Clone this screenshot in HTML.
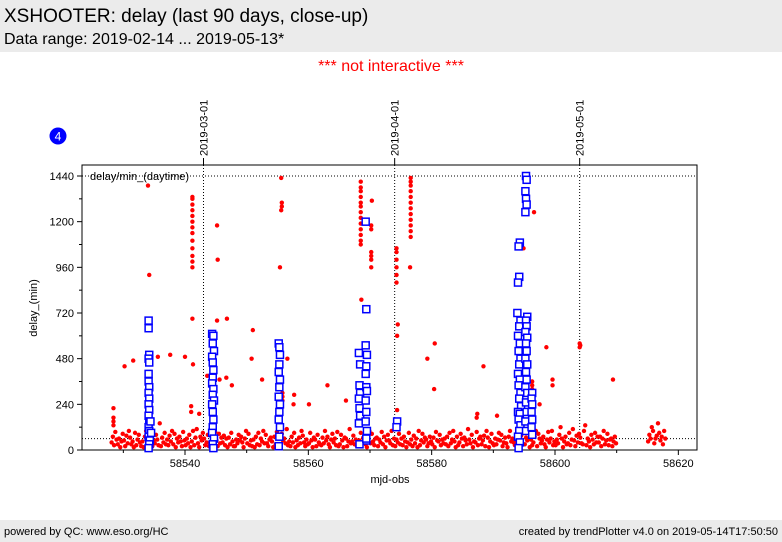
<!DOCTYPE html>
<html><head><meta charset="utf-8">
<style>
body{margin:0;width:782px;height:542px;background:#fff;font-family:"Liberation Sans",sans-serif;overflow:hidden;position:relative}
.hdr{position:absolute;left:0;top:0;width:782px;height:52px;background:#ebebeb}
.ftr{position:absolute;left:0;top:520px;width:782px;height:22px;background:#ebebeb;font-size:11px}
</style></head><body>
<div class="hdr">
<div style="position:absolute;left:4px;top:6px;font-size:19px">XSHOOTER: delay (last 90 days, close-up)</div>
<div style="position:absolute;left:4px;top:31px;font-size:16px">Data range: 2019-02-14 ... 2019-05-13*</div>
</div>
<div style="position:absolute;left:0;width:782px;top:58px;text-align:center;color:#f00;font-size:16px">*** not interactive ***</div>
<div class="ftr">
<span style="position:absolute;left:4px;top:6px">powered by QC: www.eso.org/HC</span>
<span style="position:absolute;right:4px;top:6px">created by trendPlotter v4.0 on 2019-05-14T17:50:50</span>
</div>
<svg id="chart" width="782" height="542" style="position:absolute;left:0;top:0" font-family="Liberation Sans, sans-serif"></svg>
<script>
const xTicks=[58540,58560,58580,58600,58620];
const yTicks=[0,240,480,720,960,1200,1440];
const dateLines=[58543,58574,58604];
const dateLabels=["2019-03-01","2019-04-01","2019-05-01"];
const refLines=[1440,60];
// baseline: per-day groups of delays
const baseDays=[58528,58529,58530,58531,58532,58533,58534,58535,58536,58537,58538,58539,58540,58541,58542,58543,58544,58545,58546,58547,58548,58549,58550,58551,58552,58553,58554,58555,58556,58557,58558,58559,58560,58561,58562,58563,58564,58565,58566,58567,58568,58569,58570,58571,58572,58573,58574,58575,58576,58577,58578,58579,58580,58581,58582,58583,58584,58585,58586,58587,58588,58589,58590,58591,58592,58593,58594,58595,58596,58597,58598,58599,58600,58601,58602,58603,58604,58605,58606,58607,58608,58609,58615,58616,58617];
const baseVals=[
[40,70,25,95,55],[30,60,15,45,85],[50,20,75,35,100],[65,30,45,15,90],[25,55,80,40,20],[45,15,70,100,35],
[60,30,110,20,50],[35,80,55,25,140],[20,65,40,90,30],[55,25,75,45,100],[30,85,15,60,40],[70,45,20,95,50],
[25,60,35,80,15],[45,100,25,65,110],[35,15,70,50,90],[60,25,40,80,20],[30,70,15,55,95],[50,20,85,35,65],
[40,75,25,60,15],[65,30,90,45,20],[20,55,35,80,50],[70,40,15,60,100],[35,85,25,50,20],[55,15,70,30,90],
[25,60,45,100,35],[80,35,20,55,65],[45,15,70,30,95],[30,60,20,85,50],[60,35,110,25,45],[20,70,40,90,15],
[50,25,65,35,100],[75,40,20,55,30],[35,90,50,15,65],[55,20,80,40,30],[25,65,35,100,50],[70,30,15,55,85],
[40,60,25,95,20],[30,80,50,15,65],[60,20,45,110,35],[45,75,30,55,20],[25,50,90,35,65],[55,30,15,70,100],
[35,85,45,25,60],[65,20,55,40,95],[30,70,15,50,80],[50,35,100,25,60],[20,55,40,85,30],[60,25,70,45,15],
[40,90,30,55,20],[75,35,60,15,100],[25,50,85,40,65],[55,20,35,70,45],[30,65,15,95,50],[45,80,25,55,35],
[60,30,70,20,90],[35,55,100,45,15],[70,25,40,85,60],[20,65,50,30,110],[55,35,80,15,45],[40,95,25,60,70],
[30,50,75,20,100],[65,15,45,85,35],[25,60,30,55,90],[50,80,20,40,65],[35,15,70,100,45],[60,40,25,55,85],
[45,20,75,35,110],[30,65,50,90,15],[55,25,40,70,100],[20,85,60,35,50],[70,30,15,55,95],[40,60,100,25,45],
[25,55,35,80,120],[60,15,45,70,30],[35,90,25,55,110],[50,20,75,40,85],[65,35,30,100,130],[25,60,45,15,80],
[55,30,90,40,70],[40,70,20,60,100],[30,50,85,25,55],[60,20,45,70,35],[45,80,60,120,100],[35,60,75,140,90],[50,70,30,100,60]
];
// spikes: [mjd, delay]
const spikes=[
[58528.4,130],[58528.4,150],[58528.4,170],[58528.4,220],[58530.2,440],[58531.6,470],[58534.0,1390],[58534.2,920],
[58535.6,490],[58537.6,500],[58540.0,490],
[58541.2,960],[58541.2,990],[58541.2,1020],[58541.2,1060],[58541.2,1100],[58541.2,1140],[58541.2,1170],[58541.2,1200],
[58541.2,1230],[58541.2,1260],[58541.2,1290],[58541.2,1320],[58541.2,1330],[58541.2,690],[58541.3,450],
[58541.0,230],[58541.0,200],[58542.3,190],[58543.6,390],[58545.2,1180],[58545.3,1000],[58545.2,680],[58545.6,370],
[58546.8,690],[58546.7,380],[58547.6,340],[58551.0,630],[58550.8,480],[58552.5,370],
[58555.6,1430],[58555.7,1300],[58555.7,1280],[58555.6,1260],[58555.4,960],[58555.8,300],[58555.8,280],[58555.8,260],
[58556.6,480],[58557.6,240],[58557.7,290],[58560.1,240],[58563.1,340],[58566.1,260],
[58568.5,1080],[58568.5,1100],[58568.5,1130],[58568.5,1160],[58568.5,1190],[58568.5,1220],[58568.5,1250],[58568.5,1280],
[58568.5,1300],[58568.5,1330],[58568.5,1360],[58568.5,1380],[58568.5,1410],[58568.6,790],
[58570.2,1180],[58570.2,1160],[58570.2,1040],[58570.2,1020],[58570.2,1000],[58570.2,960],[58570.3,1310],
[58574.3,880],[58574.3,920],[58574.3,960],[58574.3,1000],[58574.3,1040],[58574.3,1060],[58574.4,600],[58574.5,660],[58574.4,210],
[58576.6,1120],[58576.6,1150],[58576.6,1180],[58576.6,1210],[58576.6,1240],[58576.6,1270],[58576.6,1300],[58576.6,1330],
[58576.6,1360],[58576.6,1390],[58576.6,1410],[58576.6,1430],[58576.5,960],
[58579.3,480],[58580.4,320],[58580.5,560],[58587.3,170],[58587.4,190],[58588.4,440],[58590.6,180],
[58594.9,1060],[58596.6,1250],[58596.3,250],[58596.3,280],[58596.3,300],[58596.3,320],[58596.3,340],[58596.3,360],
[58597.5,240],[58598.6,540],[58599.6,340],[58599.6,370],[58604.0,540],[58604.0,560],[58604.1,550],[58609.4,370]
];
const blueMjd=[
58534.1,58534.1,58534.2,58534.1,58534.2,58534.1,58534.1,58534.2,58534.1,58534.2,58534.1,58534.2,58534.1,58534.2,58534.1,58534.2,58534.1,58534.3,58534.2,58534.1,58534.5,58534.4,
58544.4,58544.6,58544.5,58544.7,58544.4,58544.5,58544.6,58544.5,58544.4,58544.6,58544.5,58544.7,58544.4,58544.5,58544.6,58544.5,58544.4,58544.7,58544.5,58544.6,
58555.2,58555.3,58555.4,58555.3,58555.2,58555.4,58555.3,58555.2,58555.4,58555.3,58555.2,58555.4,58555.3,58555.2,
58568.2,58568.4,58568.3,58568.4,58568.2,58568.3,58568.4,58568.2,58569.3,58569.4,58569.3,58569.5,58569.4,58569.3,58569.4,58569.5,58569.3,58569.4,58569.3,58569.5,58569.4,58568.3,58569.4,
58574.4,58574.3,
58593.9,58594.2,58594.0,58594.3,58594.1,58594.4,58594.2,58594.0,58594.3,58594.1,58594.4,58594.2,58594.0,58594.3,58594.1,58594.4,58594.2,58594.5,58594.0,58594.3,58594.1,58594.4,58594.2,58594.0,58594.3,58594.1,
58595.3,58595.4,58595.2,58595.3,58595.4,58595.2,58595.5,58595.3,58595.4,58595.2,58595.5,58595.3,58595.4,58595.2,58595.5,58595.3,58595.4,58595.2,58595.5,58595.3,58595.4,58595.2,58595.3,
58596.3,58596.2,58596.3,58596.2,58596.3,58596.2,58596.3
];
const blueDelay=[
680,640,500,480,460,400,360,330,300,270,240,210,180,150,120,100,70,50,30,10,90,150,
610,600,560,520,490,460,420,380,350,320,290,260,240,200,160,120,90,60,30,10,
560,540,500,450,410,370,330,280,240,200,160,120,70,20,
510,450,340,300,270,220,180,140,1200,740,550,500,440,400,330,310,260,200,150,100,50,30,60,
150,120,
720,910,880,1090,1070,680,650,600,560,520,480,450,400,370,340,300,270,230,200,190,160,130,100,70,40,10,
1440,1420,1360,1320,1290,1250,700,680,650,620,590,560,520,480,450,410,370,330,300,250,200,150,100,
300,270,240,200,160,120,80
];
const ns="http://www.w3.org/2000/svg";
const svg=document.getElementById('chart');
const L=82,R=697,T=165,B=450;
function xS(m){return 185+(m-58540)*(555-185)/60;}
function yS(v){return 450-v*(450-176)/1440;}
function mk(tag,attrs,parent){const e=document.createElementNS(ns,tag);for(const k in attrs)e.setAttribute(k,attrs[k]);(parent||svg).appendChild(e);return e;}
const frame=mk('rect',{x:L,y:T,width:R-L,height:B-T,fill:'#fff',stroke:'#000','stroke-width':1});


refLines.forEach(v=>{const l=mk('line',{x1:L,x2:R,y1:yS(v),y2:yS(v),stroke:'#000','stroke-dasharray':'1,2','stroke-width':1});

});
dateLines.forEach((m,i)=>{const l=mk('line',{x1:xS(m),x2:xS(m),y1:T,y2:B,stroke:'#000','stroke-dasharray':'1,2','stroke-width':1});


mk('line',{x1:xS(m),x2:xS(m),y1:T-7,y2:T,stroke:'#000'});
const t=mk('text',{x:0,y:0,'font-size':11,transform:`translate(${xS(m)+4},${T-9}) rotate(-90)`});
t.textContent=dateLabels[i];

});
const lg=mk('text',{x:90,y:180,'font-size':11});lg.textContent='delay/min_(daytime)';


function dot(m,v){const c=mk('circle',{cx:xS(m),cy:yS(v),r:2.2,fill:'#f00'});

}
baseDays.forEach((d,i)=>{const vals=baseVals[i];vals.forEach((v,j)=>dot(d+(j+0.5)/vals.length,v));});
spikes.forEach(p=>dot(p[0],p[1]));
for(let i=0;i<blueMjd.length;i++){const r=mk('rect',{x:xS(blueMjd[i])-3.5,y:yS(blueDelay[i])-3.5,width:7,height:7,fill:'#fff',stroke:'#00f','stroke-width':1.5});

}
xTicks.forEach(v=>{mk('line',{x1:xS(v),x2:xS(v),y1:B,y2:B+5,stroke:'#000'});
const t=mk('text',{x:xS(v),y:B+17,'font-size':11,'text-anchor':'middle'});t.textContent=v;

});
xTicks.forEach(v=>{const m=xS(v-10);if(m>L)mk('line',{x1:m,x2:m,y1:B,y2:B+3,stroke:'#000'});});
yTicks.forEach(v=>{mk('line',{x1:L-5,x2:L,y1:yS(v),y2:yS(v),stroke:'#000'});
if(v<1440)mk('line',{x1:L-3,x2:L,y1:yS(v+120),y2:yS(v+120),stroke:'#000'});
const t=mk('text',{x:L-8,y:yS(v)+4,'font-size':11,'text-anchor':'end'});t.textContent=v;

});
const xt=mk('text',{x:390,y:483,'font-size':11,'text-anchor':'middle'});xt.textContent='mjd-obs';


const yt=mk('text',{x:0,y:0,'font-size':11,'text-anchor':'middle',transform:'translate(37,308) rotate(-90)'});yt.textContent='delay_(min)';


const bc=mk('circle',{cx:58,cy:136,r:8.5,fill:'#00f'});


const bt=mk('text',{x:58,y:140.5,'font-size':12,fill:'#fff','text-anchor':'middle'});bt.textContent='4';


</script>
</body></html>
